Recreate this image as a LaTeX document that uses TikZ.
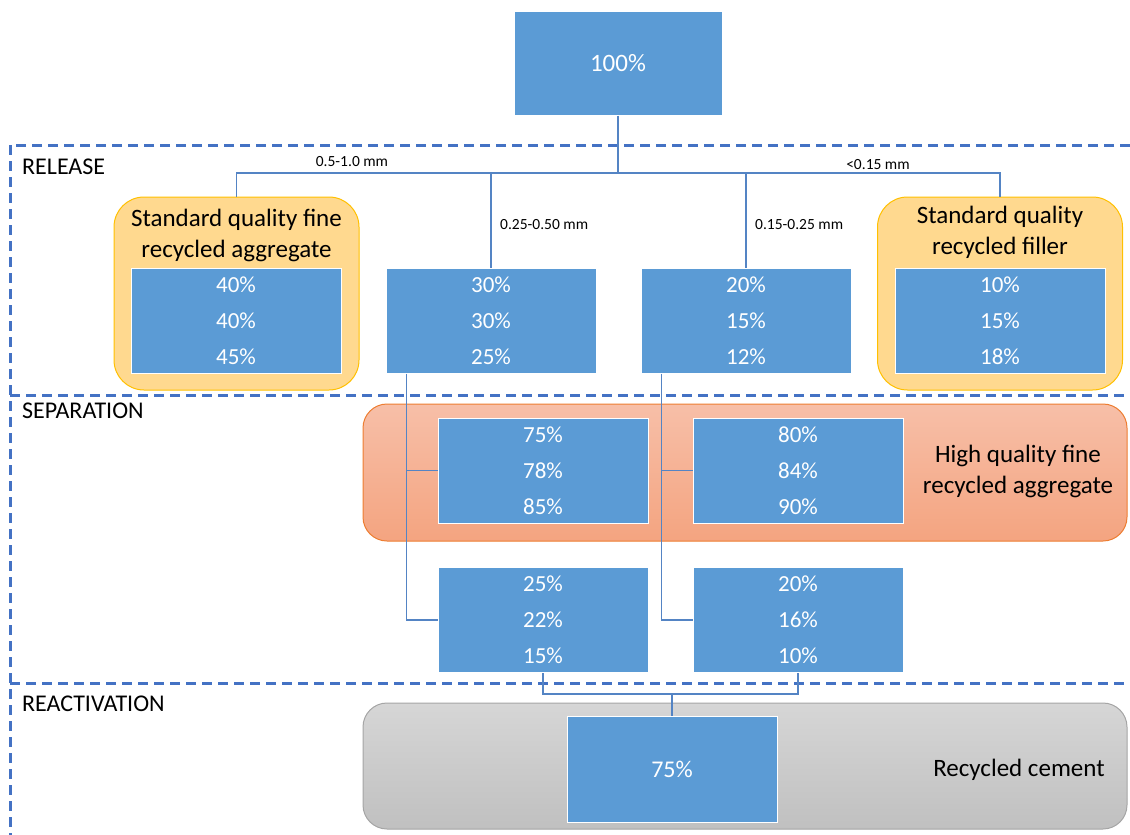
\documentclass[tikz,border=0pt]{standalone}
\usepackage{fontspec}
\setmainfont{Carlito}
\definecolor{boxblue}{RGB}{91,155,213}
\definecolor{linkblue}{RGB}{84,132,196}
\definecolor{dashblue}{RGB}{68,114,196}
\definecolor{yelfill}{RGB}{255,217,143}
\definecolor{yeldraw}{RGB}{255,192,0}
\definecolor{ortop}{RGB}{247,191,168}
\definecolor{orbot}{RGB}{244,164,128}
\definecolor{ordraw}{RGB}{237,125,49}
\definecolor{grtop}{RGB}{214,214,214}
\definecolor{grbot}{RGB}{192,192,192}
\definecolor{grdraw}{RGB}{165,165,165}
\tikzset{
  pbox/.style={draw=white, line width=1pt, fill=boxblue, minimum width=210pt, minimum height=105pt,
    inner sep=0pt, text=white, align=center, font=\fontsize{23}{36}\selectfont},
  ybox/.style={draw=yeldraw, line width=1pt, fill=yelfill, rounded corners=30pt,
    minimum width=245pt, minimum height=193pt, inner sep=0pt},
  widebox/.style={line width=1pt, rounded corners=24pt, minimum width=764pt, inner sep=0pt},
  biglabel/.style={inner sep=0pt, align=center, font=\fontsize{25}{31}\selectfont},
  phase/.style={inner sep=0pt, anchor=west, font=\fontsize{24}{28}\selectfont},
  mm/.style={inner sep=0pt, font=\fontsize{15.5}{18}\selectfont},
  link/.style={draw=linkblue, line width=1.2pt},
  dashline/.style={draw=dashblue, line width=3pt, dash pattern=on 10pt off 6pt}
}
\begin{document}
\begin{tikzpicture}[x=1pt,y=-1pt]
\useasboundingbox (0,0) rectangle (1130,835);
% phase frame
\draw[dashline] (1130,145) -- (10,145) -- (10,835);
\draw[dashline] (10,395) -- (1130,395);
\draw[dashline] (10,683) -- (1130,683);
\node[phase] (rel) at (22,167) {RELEASE};
\node[phase] (sep) at (22,411) {SEPARATION};
\node[phase] (rea) at (22,704) {REACTIVATION};
% background groups
\node[ybox] (yl) at (236.5,293.5) {};
\node[ybox] (yr) at (1000,293.5) {};
\node[widebox, draw=ordraw, top color=ortop, bottom color=orbot, minimum height=137pt] (orange) at (745,472.5) {};
\node[widebox, draw=grdraw, top color=grtop, bottom color=grbot, minimum height=126pt] (grey) at (745,766) {};
\node[biglabel] (ylt) at (236.5,235.5) {Standard quality fine\\recycled aggregate};
\node[biglabel] (yrt) at (1000,232.5) {Standard quality\\recycled filler};
\node[biglabel] (ort) at (1018,471.5) {High quality fine\\recycled aggregate};
\node[biglabel] (grt) at (1019,770) {Recycled cement};
% boxes
\node[pbox, minimum width=208pt, minimum height=104pt, font=\fontsize{25}{28}\selectfont] (top) at (618,63) {100\%};
\node[pbox] (b1) at (236,320.5) {40\%\\40\%\\45\%};
\node[pbox] (b2) at (491,320.5) {30\%\\30\%\\25\%};
\node[pbox] (b3) at (746,320.5) {20\%\\15\%\\12\%};
\node[pbox] (b4) at (1000,320.5) {10\%\\15\%\\18\%};
\node[pbox] (h1) at (543,470.5) {75\%\\78\%\\85\%};
\node[pbox] (h2) at (798,470.5) {80\%\\84\%\\90\%};
\node[pbox] (l1) at (543,620) {25\%\\22\%\\15\%};
\node[pbox] (l2) at (798,620) {20\%\\16\%\\10\%};
\node[pbox, minimum height=106pt, font=\fontsize{24}{28}\selectfont] (cem) at (672,769) {75\%};
% size labels
\node[mm] (m1) at (352,162) {0.5-1.0 mm};
\node[mm, anchor=west] (m2) at (500,225) {0.25-0.50 mm};
\node[mm, anchor=west] (m3) at (755,225) {0.15-0.25 mm};
\node[mm] (m4) at (878,165) {<0.15 mm};
% connectors
\coordinate (bus) at (618,173);
\draw[link] (top.south) -- (bus);
\draw[link] (yl.north) |- (bus) -| (yr.north);
\draw[link] (b2.north) -- (b2.north |- bus);
\draw[link] (b3.north) -- (b3.north |- bus);
\coordinate (s2) at ([xshift=21pt]b2.south west);
\coordinate (s3) at ([xshift=21pt]b3.south west);
\draw[link] (s2) |- (l1.west);
\draw[link] (s2 |- h1.west) -- (h1.west);
\draw[link] (s3) |- (l2.west);
\draw[link] (s3 |- h2.west) -- (h2.west);
\coordinate (join) at (672,694);
\draw[link] (l1.south) |- (join) -| (l2.south);
\draw[link] (join) -- (cem.north);
\end{tikzpicture}
\end{document}
